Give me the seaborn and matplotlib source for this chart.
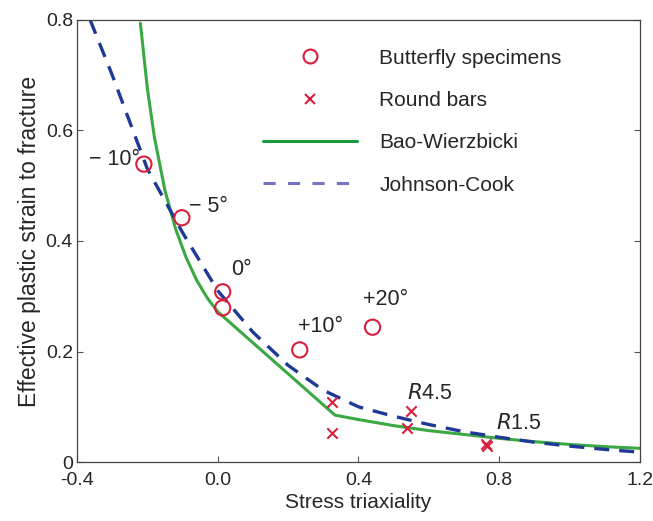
import matplotlib
matplotlib.use("Agg")
import matplotlib.pyplot as plt
import numpy as np
import pandas as pd
import seaborn as sns
from matplotlib.lines import Line2D

# butterfly specimens (open circles)
bf_x = [-0.21, -0.102, 0.014, 0.014, 0.233, 0.44]
bf_y = [0.539, 0.442, 0.308, 0.279, 0.203, 0.244]
bf_labels = ["\u2212 10°", "\u2212 5°", "0°", "", "+10°", "+20°"]

# round bars (crosses)
rb_x = [0.326, 0.326, 0.55, 0.539, 0.763, 0.765]
rb_y = [0.109, 0.052, 0.092, 0.062, 0.033, 0.029]

# Bao-Wierzbicki curve
bw_x = [-0.22, -0.2, -0.18, -0.15, -0.12, -0.09, -0.06, -0.03, 0.0,
        0.333, 0.4, 0.5, 0.6, 0.7, 0.8, 0.9, 1.0, 1.1, 1.2]
bw_y = [0.794, 0.675, 0.587, 0.491, 0.422, 0.370, 0.329, 0.297, 0.272,
        0.085, 0.077, 0.066, 0.057, 0.050, 0.043, 0.037, 0.032, 0.028, 0.025]

# Johnson-Cook curve
jc_x = [-0.363, -0.3, -0.2, -0.1, 0.0, 0.1, 0.2, 0.3, 0.4, 0.5,
        0.6, 0.7, 0.8, 0.9, 1.0, 1.1, 1.2]
jc_y = [0.80, 0.70, 0.53, 0.415, 0.31, 0.235, 0.175, 0.13, 0.10, 0.083,
        0.068, 0.055, 0.045, 0.036, 0.029, 0.023, 0.018]

x_ticks = [-0.4, 0.0, 0.4, 0.8, 1.2]
x_ticklabels = ["-0.4", "0.0", "0.4", "0.8", "1.2"]
y_ticks = [0, 0.2, 0.4, 0.6, 0.8]
y_ticklabels = ["0", "0.2", "0.4", "0.6", "0.8"]

RED = "#d81e3c"
GREEN = "#3aa843"
NAVY = "#1f3a96"

sns.set_theme(style="ticks")
plt.rcParams["font.family"] = ["Liberation Sans", "DejaVu Sans"]
plt.rcParams["xtick.direction"] = "in"
plt.rcParams["ytick.direction"] = "in"

fig = plt.figure(figsize=(6.53, 5.21), dpi=100)
ax = fig.add_axes([0.118, 0.113, 0.862, 0.849])

bw = pd.DataFrame({"x": bw_x, "y": bw_y})
jc = pd.DataFrame({"x": jc_x, "y": jc_y})
sns.lineplot(data=bw, x="x", y="y", color=GREEN, linewidth=2.2, sort=False,
             ax=ax)
sns.lineplot(data=jc, x="x", y="y", color=NAVY, linewidth=2.4, sort=False,
             ax=ax, dashes=False)
ax.lines[-1].set_dashes([4.5, 3])

sns.scatterplot(x=bf_x, y=bf_y, marker="o", s=120, facecolor="none",
                edgecolor=RED, linewidth=1.5, ax=ax, zorder=5)
sns.scatterplot(x=rb_x, y=rb_y, marker="x", s=55, color=RED,
                linewidth=1.5, ax=ax, zorder=5)

offsets = [(-3, 3, "right"), (5, 8, "left"), (6, 16, "left"), (0, 0, "left"),
           (-1, 17, "left"), (-7, 20, "left")]
for xv, yv, lab, (dx, dy, ha) in zip(bf_x, bf_y, bf_labels, offsets):
    if lab:
        ax.annotate(lab, (xv, yv), xytext=(dx, dy), textcoords="offset points",
                    ha=ha, va="center", fontsize=15.5)
ax.annotate("$\\mathit{R}$4.5", (rb_x[2], rb_y[2]), xytext=(-3, 13),
            textcoords="offset points", ha="left", va="center", fontsize=15.5)
ax.annotate("$\\mathit{R}$1.5", (rb_x[4], rb_y[4]), xytext=(7, 15),
            textcoords="offset points", ha="left", va="center", fontsize=15.5)

ax.set_xlim(-0.4, 1.2)
ax.set_ylim(0, 0.8)
ax.set_xticks(x_ticks)
ax.set_xticklabels(x_ticklabels)
ax.set_yticks(y_ticks)
ax.set_yticklabels(y_ticklabels)
ax.tick_params(labelsize=14, length=4, width=0.8, color="#555555",
               top=False, right=True, pad=3)
ax.tick_params(axis="x", pad=7)
for side in ["left", "right", "top", "bottom"]:
    ax.spines[side].set_visible(True)
    ax.spines[side].set_linewidth(0.9)
    ax.spines[side].set_color("#444444")
ax.set_xlabel("Stress triaxiality", fontsize=15, labelpad=3)
ax.set_ylabel("Effective plastic strain to fracture", fontsize=16.5,
              labelpad=3)

handles = [
    Line2D([], [], linestyle="none", marker="o", markersize=10,
           markerfacecolor="none", markeredgecolor=RED, markeredgewidth=1.5),
    Line2D([], [], linestyle="none", marker="x", markersize=7,
           color=RED, markeredgewidth=1.5),
    Line2D([], [], color="#1a9a3a", linewidth=2.2),
    Line2D([], [], color="#7474c4", linewidth=2.2, dashes=[4, 4]),
]
labels = ["Butterfly specimens", "Round bars", "Bao-Wierzbicki",
          "Johnson-Cook"]
ax.legend(handles, labels, loc="upper left", bbox_to_anchor=(0.33, 0.935),
          frameon=False, fontsize=15, handlelength=4.5, handletextpad=1.1,
          labelspacing=1.12, borderpad=0, borderaxespad=0)

fig.savefig("out.png", dpi=100)
plt.close(fig)
